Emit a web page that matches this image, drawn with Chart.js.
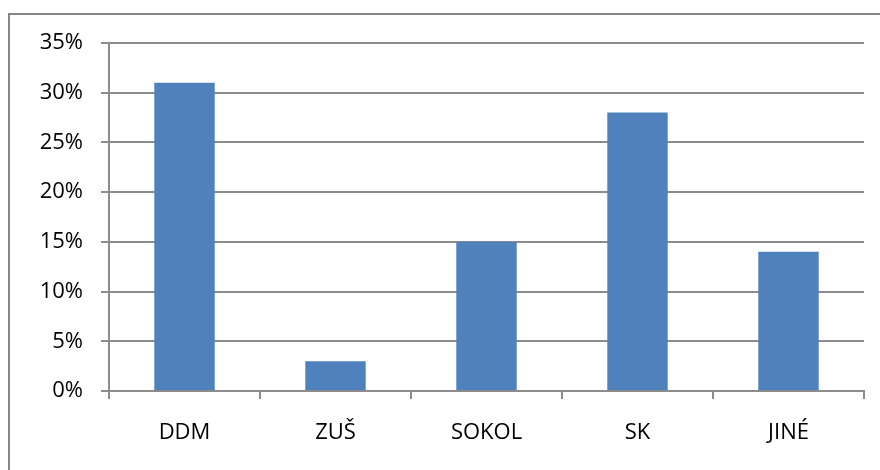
<!DOCTYPE html>
<html>
<head>
<meta charset="utf-8">
<script src="https://cdn.jsdelivr.net/npm/chart.js@4"></script>
<style>
html,body{margin:0;padding:0;background:#fff;}
#wrap{width:880px;height:470px;position:relative;}
</style>
</head>
<body>
<div id="wrap"><canvas id="c" width="880" height="470"></canvas></div>
<script>
const categories = ["DDM", "ZUŠ", "SOKOL", "SK", "JINÉ"];
const values = [31, 3, 15, 28, 14];
const yTicks = [0, 5, 10, 15, 20, 25, 30, 35];

const gridColor = '#8c8c8c';
const frame = {
  id: 'frame',
  beforeDraw(chart) {
    const ctx = chart.ctx;
    ctx.save();
    ctx.strokeStyle = '#868686';
    ctx.lineWidth = 2;
    ctx.beginPath();
    ctx.moveTo(9, 470);
    ctx.lineTo(9, 14);
    ctx.lineTo(880, 14);
    ctx.stroke();
    ctx.restore();
  }
};

new Chart(document.getElementById('c'), {
  type: 'bar',
  data: {
    labels: categories,
    datasets: [{
      data: values,
      backgroundColor: '#4F81BD',
      borderWidth: 0,
      barPercentage: 0.4,
      categoryPercentage: 1.0
    }]
  },
  plugins: [frame],
  options: {
    responsive: false,
    animation: false,
    devicePixelRatio: 1,
    layout: { padding: { left: 0, right: 16, top: 43, bottom: 0 } },
    plugins: { legend: { display: false }, tooltip: { enabled: false } },
    scales: {
      x: {
        grid: { display: true, offset: true, drawOnChartArea: false, tickLength: 8, color: gridColor, lineWidth: 2 },
        border: { display: true, color: gridColor, width: 2 },
        ticks: { color: '#000', font: { family: 'Open Sans', size: 22 }, padding: 21, maxRotation: 0 },
        afterFit(s) { s.height = 79; }
      },
      y: {
        min: 0, max: 35,
        afterBuildTicks(s) { s.ticks = yTicks.map(v => ({ value: v })); },
        grid: { color: gridColor, lineWidth: 2, tickLength: 8 },
        border: { display: true, color: gridColor, width: 2 },
        ticks: { color: '#000', font: { family: 'Open Sans', size: 22 }, padding: 18, callback: v => v + '%' },
        afterFit(s) { s.width = 109; }
      }
    }
  }
});
</script>
</body>
</html>
